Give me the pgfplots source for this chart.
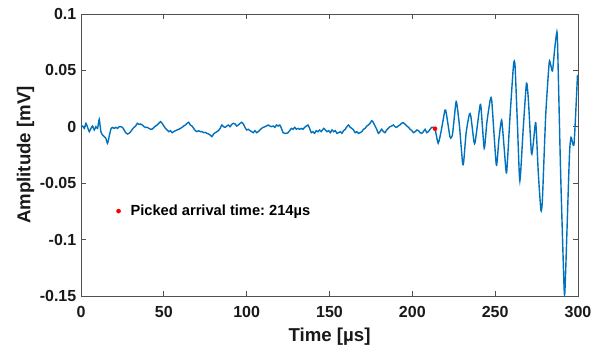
\documentclass[border=0pt]{standalone}
\usepackage{pgfplots}
\pgfplotsset{compat=1.18}
\usepackage{fontspec}
\setmainfont{Liberation Sans}
\definecolor{mblue}{HTML}{0072BD}
\definecolor{axgray}{HTML}{505050}
\begin{document}
\begin{tikzpicture}
\begin{axis}[
  name=ax, at={(0,0)}, anchor=south west,
  scale only axis, width=372.75pt, height=211.5pt,
  xmin=0, xmax=300, ymin=-0.15, ymax=0.1,
  xtick={0,50,100,150,200,250,300},
  xticklabels={0,50,100,150,200,250,300},
  ytick={-0.15,-0.1,-0.05,0,0.05,0.1},
  yticklabels={-0.15,-0.1,-0.05,0,0.05,0.1},
  tick align=inside, major tick length=4pt,
  axis line style={axgray, line width=0.5pt},
  every tick/.style={axgray, line width=0.5pt},
  ticklabel style={font=\fontsize{12}{14}\selectfont\bfseries, text=black!90},
  xticklabel style={yshift=-4.5pt},
  xlabel={Time [µs]}, ylabel={Amplitude [mV]},
  label style={font=\fontsize{14}{16}\selectfont\bfseries, text=black!90},
  xlabel style={at={(axis description cs:0.5,-0.1607)}, anchor=base},
  ylabel style={at={(axis description cs:-0.1017,0.5)}, anchor=base},
  legend style={at={(rel axis cs:0.071,0.301)}, anchor=west, draw=none, fill=none,
    font=\fontsize{11}{13}\selectfont\bfseries, inner sep=0pt,
    legend image code/.code={\draw[#1] plot coordinates {(0.15cm,0cm)}; \path[draw=none,fill=none] (0.15cm,0cm) -- (0.15cm+7pt,0cm);}},
  legend cell align=left,
]
\addplot[mblue, line width=1.05pt, smooth, tension=0.35, forget plot] coordinates {
(0,0.0007)(1,0.0007)(2,-0.0014)(3,0.0031)(4,-0.0005)(5,-0.0043)(6,-0.0014)(7,0.0007)(8,-0.0028)(9,0.0001)
(10,-0.0014)(11,0.0066)(12,-0.0043)(13,-0.0073)(14,-0.0087)(15,-0.0102)(16,-0.0147)(17,-0.0087)(18,-0.0022)(19,-0.0005)
(20,-0.0014)(21,-0.0005)(22,-0.0014)(23,0.0001)(24,0.0001)(25,-0.0005)(26,-0.0028)(27,-0.0052)(28,-0.0064)(29,-0.0058)
(30,-0.0043)(31,-0.0022)(32,-0.0005)(33,0.0007)(34,0.0031)(35,0.0022)(36,0.0025)(37,0.0016)(38,0.0001)(39,-0.0005)
(40,-0.0005)(41,-0.0014)(42,-0.0022)(43,-0.0020)(44,-0.0005)(45,0.0007)(46,0.0016)(47,0.0031)(48,0.0046)(49,0.0031)
(50,0.0007)(51,-0.0014)(52,-0.0028)(53,-0.0043)(54,-0.0034)(55,-0.0052)(56,-0.0043)(57,-0.0034)(58,-0.0028)(59,-0.0022)
(60,-0.0014)(61,-0.0005)(62,0.0007)(63,0.0016)(64,0.0031)(65,0.0040)(66,0.0016)(67,0.0007)(68,-0.0014)(69,-0.0034)
(70,-0.0043)(71,-0.0034)(72,-0.0043)(73,-0.0043)(74,-0.0052)(75,-0.0049)(76,-0.0058)(77,-0.0064)(78,-0.0073)(79,-0.0087)
(80,-0.0064)(81,-0.0052)(82,-0.0043)(83,-0.0034)(84,-0.0014)(85,0.0016)(86,0.0001)(87,-0.0005)(88,0.0007)(89,0.0016)
(90,0.0001)(91,0.0022)(92,0.0031)(93,0.0025)(94,0.0007)(95,0.0016)
(96,0.0031)(97,0.0040)(98,0.0025)(99,-0.0005)(100,-0.0028)(101,-0.0022)(102,-0.0034)(103,-0.0043)(104,-0.0052)(105,-0.0034)
(106,-0.0052)(107,-0.0043)(108,-0.0028)(109,-0.0014)(110,-0.0005)(111,0.0001)(112,0.0007)(113,0.0016)(114,0.0007)(115,0.0001)
(116,0.0007)(117,-0.0005)(118,0.0016)(119,0.0007)(120,0.0016)(121,-0.0014)(122,-0.0052)(123,-0.0058)(124,-0.0058)(125,-0.0052)
(126,-0.0034)(127,-0.0014)(128,-0.0022)(129,-0.0005)(130,-0.0022)(131,-0.0014)(132,-0.0022)(133,-0.0014)(134,-0.0022)(135,-0.0005)
(136,0.0007)(137,0.0016)(138,-0.0014)(139,-0.0052)(140,-0.0043)(141,-0.0058)(142,-0.0034)(143,-0.0043)(144,-0.0028)(145,-0.0043)
(146.5,-0.0014)(147.5,-0.0028)(148.5,-0.0043)(149.5,-0.0034)(150.5,-0.0052)(151.5,-0.0028)(152.5,-0.0043)(153.5,-0.0034)(154.5,-0.0058)(155.5,-0.0052)
(156.5,-0.0043)(157.5,-0.0058)(158.5,-0.0034)(159.5,-0.0022)(160.5,0.0001)(161.5,0.0016)(162.5,-0.0005)(163.5,-0.0014)(164.5,-0.0028)(165.5,-0.0052)
(166.5,-0.0043)(167.5,-0.0058)(168.5,-0.0052)(169.5,-0.0043)(170.5,-0.0022)(171.5,-0.0014)(172.5,0.0007)(173.5,0.0016)(174.5,0.0031)(175.5,0.0054)
(176.5,0.0037)(177.5,0.0007)(178.5,-0.0022)(179.5,-0.0058)(180.5,-0.0043)(181.5,-0.0022)(182.5,-0.0043)(183.5,-0.0052)(184.5,-0.0028)(185.5,-0.0014)
(186.5,0.0001)(187.5,0.0007)(188.5,0.0016)(189.5,0.0001)(190.5,-0.0005)(191.5,0.0007)(192.5,0.0016)(193.5,0.0031)(194.5,0.0037)(195.5,0.0025)
(196.7,0.0007)(197.7,-0.0005)(198.7,-0.0022)(199.7,-0.0034)(200.7,-0.0052)(201.7,-0.0043)(202.7,-0.0028)(203.7,-0.0034)(204.7,-0.0052)(205.7,-0.0058)
(206.7,-0.0043)(207.7,-0.0022)(208.7,-0.0052)(209.7,-0.0043)(210.7,-0.0022)(211.7,-0.0005)(212.7,-0.0005)(213.7,-0.0017)
(215.6,-0.0146)(217.5,-0.003)(219.7,0.0149)(220.5,0.012)(222.7,-0.0088)(223.5,-0.0095)(224.3,-0.006)(226.3,0.0214)(227,0.019)(228.5,0.000)
(230.3,-0.0318)(231,-0.031)(232.5,-0.005)(234.4,0.011)(235.3,0.0095)(237.2,-0.0132)(238,-0.0128)(240.8,0.0184)(241.5,0.0165)(243.4,-0.0191)
(245,0.004)(247.1,0.0244)(248,0.022)(250.7,-0.0339)(252.2,-0.012)(253.9,0.006)(255.5,-0.02)(256.9,-0.0407)(259,0.01)(261.1,0.0554)
(262,0.054)(263.5,0.0)(264.9,-0.048)(267,0.0)(268.9,0.0386)(270,0.025)(271.9,-0.0235)(273,-0.015)(274.5,0.0037)(276,-0.04)
(277.6,-0.0738)(278.5,-0.065)(280.5,0.01)(282.6,0.0568)(283.5,0.055)(284.6,0.0495)(286,0.07)(287,0.082)(287.6,0.077)(289.5,-0.04)
(291.7,-0.146)(292.5,-0.13)(294.8,-0.0265)(295.8,-0.0093)(297.6,-0.0152)(299.7,0.046)
};
\addplot[only marks, mark=*, mark size=1.5pt, color=red] coordinates {(213.7,-0.0017)};
\addlegendentry{Picked arrival time:\ 214µs}
\end{axis}
\pgfresetboundingbox
\path (-60.75pt,-41.25pt) rectangle (391.5pt,222pt);
\end{tikzpicture}
\end{document}
